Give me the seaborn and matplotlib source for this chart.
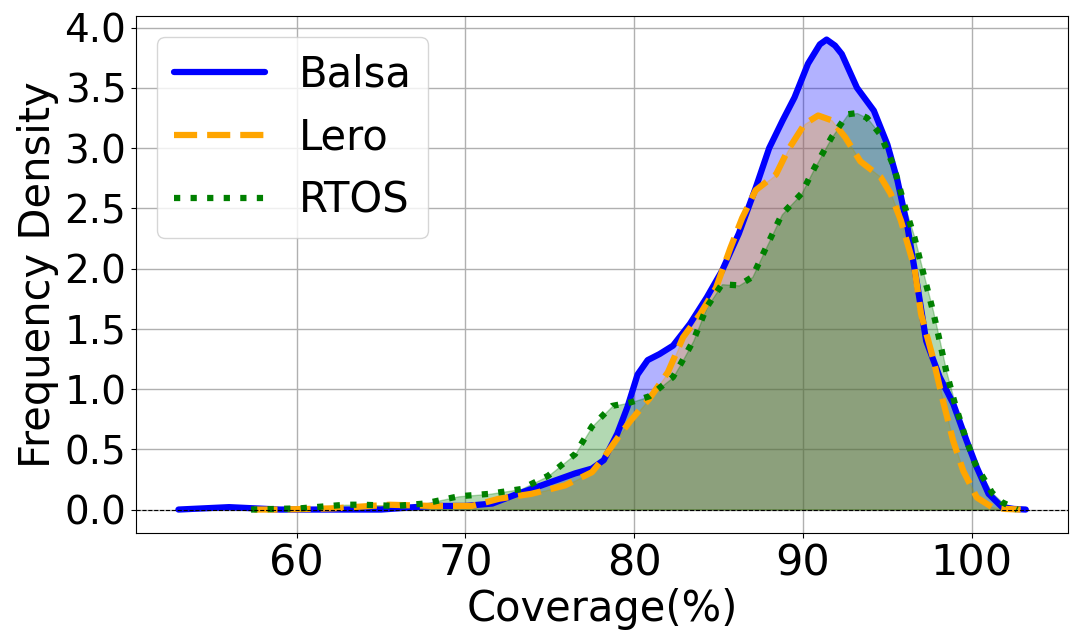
import numpy as np
import pandas as pd
import matplotlib
matplotlib.use("Agg")
import matplotlib.pyplot as plt
import seaborn as sns

# density curves (coverage %, density)
balsa_x = [53, 54.5, 56, 57.5, 59, 62, 65, 68, 70, 71.6, 72.9, 73.9, 75.1, 76.5,
           77.5, 78.2, 79.0, 79.6, 80.2, 80.8, 81.5, 82.3, 83.3, 84.3, 85.2, 86.2,
           87.2, 88.0, 88.8, 89.5, 90.3, 91.0, 91.4, 91.9, 92.3, 93.2, 94.2, 95.0,
           95.6, 96.2, 96.8, 97.3, 98.1, 98.9, 99.7, 100.3, 101.0, 101.8, 102.5, 103.2]
balsa_y = [0.0, 0.01, 0.02, 0.01, 0.0, 0.0, 0.0, 0.03, 0.03, 0.05, 0.12, 0.17, 0.23, 0.30,
           0.34, 0.41, 0.63, 0.85, 1.12, 1.24, 1.29, 1.36, 1.54, 1.76, 1.98, 2.29,
           2.67, 3.00, 3.23, 3.42, 3.70, 3.86, 3.90, 3.85, 3.78, 3.50, 3.31, 3.03,
           2.73, 2.34, 1.84, 1.40, 1.10, 0.88, 0.57, 0.35, 0.13, 0.02, 0.005, 0.0]

lero_x = [57.5, 59, 62.2, 65.5, 68, 70.4, 72.0, 73.9, 75.9, 77.5, 78.2, 79.2, 79.8,
          80.9, 82.0, 82.9, 83.9, 84.85, 85.7, 86.4, 87.2, 88.4, 89.1, 90.1, 90.9,
          91.7, 92.5, 93.4, 94.6, 95.2, 95.8, 96.6, 97.0, 97.7, 98.3, 98.9, 99.5,
          100.3, 101.2, 102.0, 102.9]
lero_y = [0.0, 0.0, 0.01, 0.04, 0.03, 0.03, 0.09, 0.13, 0.20, 0.31, 0.43, 0.63, 0.74,
          0.92, 1.14, 1.43, 1.62, 1.84, 2.17, 2.42, 2.65, 2.78, 2.98, 3.20, 3.27,
          3.23, 3.09, 2.89, 2.76, 2.62, 2.40, 2.01, 1.62, 1.26, 0.90, 0.57, 0.32,
          0.10, 0.02, 0.005, 0.0]

rtos_x = [57.3, 60.2, 62.9, 63.9, 65.9, 67.6, 69.6, 71.4, 73.3, 74.9, 76.5, 77.5,
          78.7, 79.8, 80.9, 81.6, 82.3, 82.8, 83.5, 84.3, 85.2, 86.2, 87.0, 87.8,
          88.75, 89.9, 90.7, 91.7, 92.65, 93.2, 93.8, 94.6, 95.4, 96.0, 96.6, 97.15,
          97.7, 98.1, 98.5, 99.0, 99.6, 100.2, 101.2, 101.8, 102.7]
rtos_y = [0.0, 0.01, 0.04, 0.04, 0.03, 0.05, 0.11, 0.13, 0.17, 0.28, 0.46, 0.69,
          0.86, 0.89, 0.94, 1.02, 1.10, 1.22, 1.40, 1.68, 1.87, 1.86, 1.93, 2.17,
          2.45, 2.62, 2.84, 3.09, 3.28, 3.29, 3.25, 3.11, 2.84, 2.53, 2.26, 1.95,
          1.65, 1.40, 1.14, 0.88, 0.61, 0.38, 0.14, 0.06, 0.0]

series = [
    ("Balsa", balsa_x, balsa_y, "blue", "-"),
    ("Lero", lero_x, lero_y, "orange", "--"),
    ("RTOS", rtos_x, rtos_y, "green", ":"),
]

sns.set_style("ticks", {"axes.grid": True, "grid.color": "#b0b0b0",
                        "axes.edgecolor": "black"})
plt.rcParams["font.family"] = ["DejaVu Sans"]
plt.rcParams["text.color"] = "black"
plt.rcParams["axes.labelcolor"] = "black"
plt.rcParams["xtick.color"] = "black"
plt.rcParams["ytick.color"] = "black"

fig, ax = plt.subplots(figsize=(10.8, 6.43), dpi=100)
fig.subplots_adjust(left=0.126, right=0.989, top=0.975, bottom=0.171)

for name, xs, ys, color, ls in series:
    df = pd.DataFrame({"x": xs, "y": ys})
    sns.lineplot(data=df, x="x", y="y", ax=ax, color=color, linestyle=ls,
                 linewidth=4.5, label=name, sort=False)
    ax.fill_between(df["x"], df["y"], color=color, alpha=0.3)

ax.axhline(0, color="black", linestyle="--", linewidth=0.8)

ax.set_xticks([60, 70, 80, 90, 100])
ax.set_yticks(np.arange(0, 4.01, 0.5))
ax.tick_params(axis="x", labelsize=31)
ax.tick_params(axis="y", labelsize=28)
ax.set_xlabel("Coverage(%)", fontsize=30, labelpad=2)
ax.set_ylabel("Frequency Density", fontsize=30)
ax.grid(True, color="#b0b0b0", linewidth=1)
for s in ax.spines.values():
    s.set_color("black")

ax.legend(loc="upper left", fontsize=30, handlelength=2.2, framealpha=0.8)

plt.savefig("out.png", dpi=100)
plt.close()
